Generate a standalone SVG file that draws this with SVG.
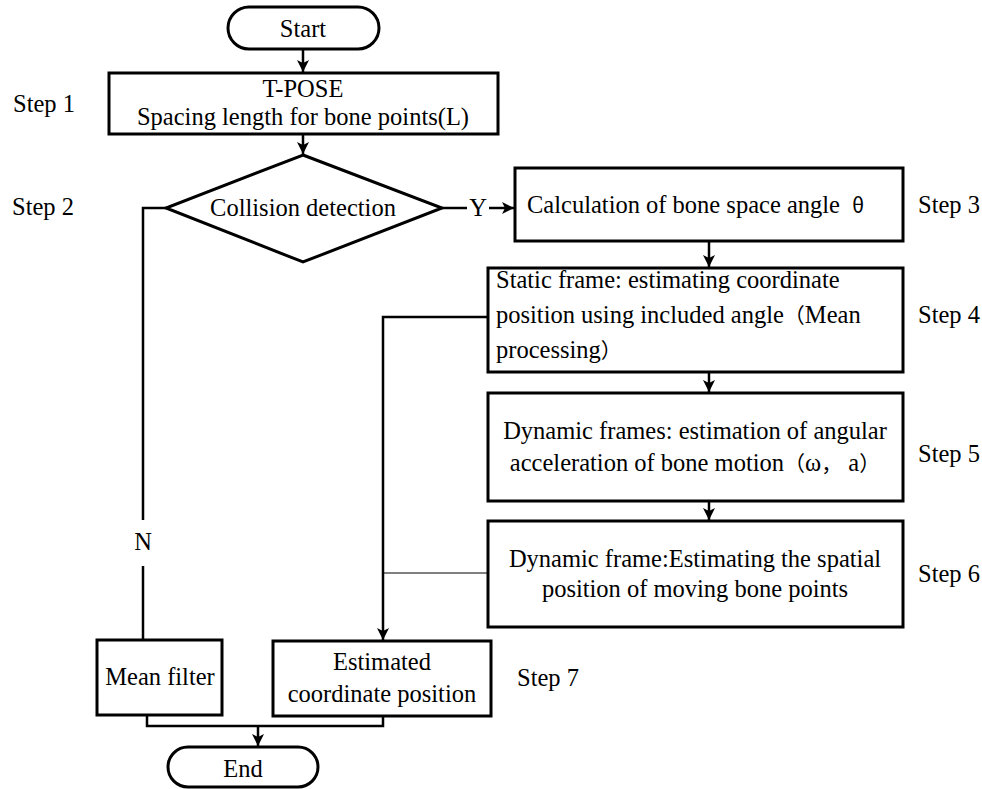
<svg xmlns="http://www.w3.org/2000/svg" width="982" height="789" viewBox="0 0 982 789">
<defs>
<marker id="ah" viewBox="0 0 12 12" refX="12" refY="6" markerWidth="12" markerHeight="12" markerUnits="userSpaceOnUse" orient="auto">
<path d="M0,0 L12,6 L0,12 L3,6 Z" fill="#000"/>
</marker>
<style>
.box{fill:#fff;stroke:#000;stroke-width:3}
.ln{fill:none;stroke:#000;stroke-width:2.5}
.thin{fill:none;stroke:#000;stroke-width:1}
text{font-family:'Liberation Serif','Times New Roman','DejaVu Serif',serif;font-size:24.5px;fill:#000}
.cjk{font-family:'Noto Sans CJK SC',sans-serif;font-size:21px}
.c{text-anchor:middle}
</style>
</defs>
<rect width="982" height="789" fill="#fff"/>
<g id="connectors">
<path class="ln" d="M303,49 V72" marker-end="url(#ah)"/>
<path class="ln" d="M303,134 V154" marker-end="url(#ah)"/>
<path class="ln" d="M442,208 H467"/>
<path class="ln" d="M489,208 H514" marker-end="url(#ah)"/>
<path class="ln" d="M166,208 H143 V520"/>
<path class="ln" d="M143,566 V640"/>
<path class="ln" d="M709,241 V267" marker-end="url(#ah)"/>
<path class="ln" d="M709,372 V392" marker-end="url(#ah)"/>
<path class="ln" d="M709,501 V520" marker-end="url(#ah)"/>
<path class="ln" d="M488,317 H383 V640" marker-end="url(#ah)"/>
<path class="thin" d="M488,573 H383"/>
<path class="ln" d="M147,715 V726 H383 V716"/>
<path class="ln" d="M258,726 V746" marker-end="url(#ah)"/>
<text class="c" x="478" y="216">Y</text>
<text class="c" x="143" y="550">N</text>
</g>
<g id="start">
<rect class="box" x="228" y="7" width="151" height="42" rx="21"/>
<text class="c" x="303" y="37">Start</text>
</g>
<g id="step1">
<rect class="box" x="109" y="73" width="389" height="61"/>
<text class="c" x="303" y="97">T-POSE</text>
<text class="c" x="303" y="125">Spacing length for bone points(L)</text>
</g>
<g id="step2">
<polygon class="box" points="303,155 442,208 303,262 166,208"/>
<text class="c" x="303" y="216">Collision detection</text>
</g>
<g id="step3">
<rect class="box" x="515" y="168" width="388" height="73"/>
<text x="527" y="213">Calculation of bone space angle <tspan class="cjk" dx="6">θ</tspan></text>
</g>
<g id="step4">
<rect class="box" x="488" y="268" width="415" height="104"/>
<text x="496" y="288">Static frame: estimating coordinate</text>
<text x="496" y="323">position using included angle<tspan class="cjk">（</tspan>Mean</text>
<text x="496" y="358">processing<tspan class="cjk">）</tspan></text>
</g>
<g id="step5">
<rect class="box" x="488" y="393" width="415" height="108"/>
<text class="c" x="695" y="439">Dynamic frames: estimation of angular</text>
<text class="c" x="695" y="471">acceleration of bone motion<tspan class="cjk">（</tspan>ω<tspan class="cjk">，</tspan> a<tspan class="cjk">）</tspan></text>
</g>
<g id="step6">
<rect class="box" x="488" y="521" width="415" height="106"/>
<text class="c" x="695" y="567">Dynamic frame:Estimating the spatial</text>
<text class="c" x="695" y="597">position of moving bone points</text>
</g>
<g id="mean">
<rect class="box" x="97" y="640" width="125" height="75"/>
<text class="c" x="160" y="685">Mean filter</text>
</g>
<g id="estimated">
<rect class="box" x="273" y="641" width="218" height="75"/>
<text class="c" x="382" y="670">Estimated</text>
<text class="c" x="382" y="702">coordinate position</text>
</g>
<g id="end">
<rect class="box" x="168" y="747" width="150" height="40" rx="20"/>
<text class="c" x="243" y="777">End</text>
</g>
<g id="labels">
<text x="13" y="112">Step 1</text>
<text x="12" y="215">Step 2</text>
<text x="918" y="213">Step 3</text>
<text x="918" y="323">Step 4</text>
<text x="918" y="462">Step 5</text>
<text x="918" y="582">Step 6</text>
<text x="517" y="686">Step 7</text>
</g>
</svg>
